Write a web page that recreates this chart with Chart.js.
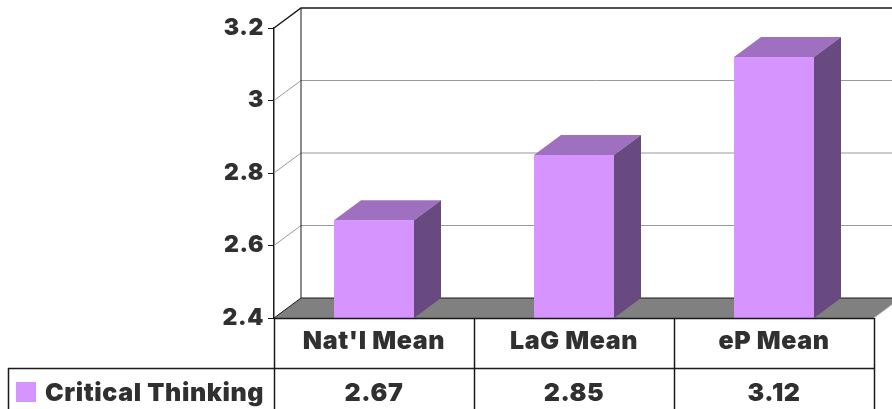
<!DOCTYPE html>
<html>
<head>
<meta charset="utf-8">
<style>
  html, body { margin: 0; padding: 0; background: #ffffff; }
  #wrap { width: 892px; height: 409px; }
</style>
<script src="https://cdn.jsdelivr.net/npm/chart.js@4/dist/chart.umd.min.js"></script>
</head>
<body>
<div id="wrap"><canvas id="c" width="892" height="409"></canvas></div>
<script>
// Critical Thinking means
const categories = ["Nat'l Mean", "LaG Mean", "eP Mean"];
const seriesName = "Critical Thinking";
const values = [2.67, 2.85, 3.12];
const valueLabels = ["2.67", "2.85", "3.12"];
const yTicks = [2.4, 2.6, 2.8, 3.0, 3.2];

const FONT = "Inter, 'DejaVu Sans', sans-serif";
const WEIGHT = '900';
const SPACING = '0.6px';
const TEXT = '#303030';
const FRONT = '#d694ff';
const TOP = '#a070c0';
const SIDE = '#684a80';
const LINE = '#1a1a1a';
const DX = 27, DY = -20;   // depth of the 3D box

const box3d = {
  id: 'box3d',
  beforeDraw(chart) {
    // wide, heavy lettering for every label
    chart.ctx.letterSpacing = SPACING;
  },
  beforeDatasetsDraw(chart) {
    const ctx = chart.ctx;
    const a = chart.chartArea;
    const y = chart.scales.y;
    const W = chart.width;
    ctx.save();
    // floor
    ctx.fillStyle = '#808080';
    ctx.beginPath();
    ctx.moveTo(a.left, a.bottom);
    ctx.lineTo(a.right, a.bottom);
    ctx.lineTo(a.right + DX, a.bottom + DY);
    ctx.lineTo(a.left + DX, a.bottom + DY);
    ctx.closePath();
    ctx.fill();
    ctx.strokeStyle = '#c8c8c8';
    ctx.lineWidth = 1;
    ctx.beginPath();
    ctx.moveTo(a.right, a.bottom);
    ctx.lineTo(a.right + DX, a.bottom + DY);
    ctx.stroke();
    // gridlines on side and back walls
    yTicks.forEach((t, i) => {
      const py = y.getPixelForValue(t);
      const last = i === yTicks.length - 1;
      const first = i === 0;
      ctx.strokeStyle = (last || first) ? LINE : '#999999';
      ctx.lineWidth = last ? 1.5 : 1;
      ctx.beginPath();
      ctx.moveTo(a.left, py);
      ctx.lineTo(a.left + DX, py + DY);
      ctx.lineTo(W, py + DY);
      ctx.stroke();
    });
    // back-left wall edge
    ctx.strokeStyle = LINE;
    ctx.lineWidth = 1;
    ctx.beginPath();
    ctx.moveTo(a.left + DX, a.top + DY);
    ctx.lineTo(a.left + DX, a.bottom + DY);
    ctx.stroke();
    ctx.restore();
  },
  afterDatasetsDraw(chart) {
    const ctx = chart.ctx;
    const a = chart.chartArea;
    const meta = chart.getDatasetMeta(0);
    ctx.save();
    meta.data.forEach(bar => {
      const l = bar.x - bar.width / 2, r = bar.x + bar.width / 2;
      const t = bar.y, b = a.bottom;
      ctx.fillStyle = TOP;
      ctx.beginPath();
      ctx.moveTo(l, t); ctx.lineTo(r, t);
      ctx.lineTo(r + DX, t + DY); ctx.lineTo(l + DX, t + DY);
      ctx.closePath(); ctx.fill();
      ctx.fillStyle = SIDE;
      ctx.beginPath();
      ctx.moveTo(r, t); ctx.lineTo(r + DX, t + DY);
      ctx.lineTo(r + DX, b + DY); ctx.lineTo(r, b);
      ctx.closePath(); ctx.fill();
    });
    ctx.restore();
  },
  afterDraw(chart) {
    // data table below the plot
    const ctx = chart.ctx;
    const a = chart.chartArea;
    const x = chart.scales.x;
    const H = chart.height;
    const rowTop = a.bottom + 50;
    const tableLeft = 8;
    const step = (a.right - a.left) / categories.length;
    ctx.save();
    ctx.strokeStyle = LINE;
    ctx.lineWidth = 1.5;
    ctx.beginPath();
    for (let i = 0; i <= categories.length; i++) {
      const px = Math.round(a.left + i * step) + 0.5;
      ctx.moveTo(px, a.bottom);
      ctx.lineTo(px, H);
    }
    ctx.moveTo(tableLeft + 0.5, rowTop);
    ctx.lineTo(tableLeft + 0.5, H);
    ctx.moveTo(tableLeft, rowTop + 0.5);
    ctx.lineTo(a.right, rowTop + 0.5);
    ctx.moveTo(a.left, a.bottom + 0.5);
    ctx.lineTo(a.right, a.bottom + 0.5);
    ctx.stroke();

    ctx.letterSpacing = SPACING;
    ctx.font = WEIGHT + ' 25px ' + FONT;
    ctx.fillStyle = TEXT;
    ctx.textAlign = 'center';
    ctx.textBaseline = 'middle';
    const vy = rowTop + 25;
    valueLabels.forEach((s, i) => {
      ctx.fillText(s, x.getPixelForValue(i), vy);
    });
    // legend key
    ctx.fillStyle = FRONT;
    ctx.fillRect(16, rowTop + 14, 20, 20);
    ctx.fillStyle = TEXT;
    ctx.textAlign = 'left';
    ctx.fillText(seriesName, 45, vy);
    ctx.restore();
  }
};

new Chart(document.getElementById('c'), {
  type: 'bar',
  data: {
    labels: categories,
    datasets: [{
      label: seriesName,
      data: values,
      backgroundColor: FRONT,
      borderWidth: 0,
      barPercentage: 0.4,
      categoryPercentage: 1.0
    }]
  },
  options: {
    responsive: false,
    devicePixelRatio: 1,
    animation: false,
    layout: { padding: { left: 0, right: 18, top: 28, bottom: 0 } },
    plugins: { legend: { display: false }, tooltip: { enabled: false } },
    scales: {
      y: {
        min: 2.4,
        max: 3.2,
        afterFit(scale) { scale.width = 274; },
        afterBuildTicks(scale) { scale.ticks = yTicks.map(v => ({ value: v })); },
        ticks: {
          padding: 4,
          color: TEXT,
          font: { family: FONT, size: 23, weight: WEIGHT },
          callback: v => String(+Number(v).toFixed(1))
        },
        grid: { drawOnChartArea: false, drawTicks: true, tickLength: 6, color: LINE },
        border: { display: true, color: LINE, width: 1.5 }
      },
      x: {
        afterFit(scale) { scale.height = 91; },
        ticks: {
          padding: 8,
          color: TEXT,
          font: { family: FONT, size: 25, weight: WEIGHT }
        },
        grid: { display: false, drawTicks: false },
        border: { display: false }
      }
    }
  },
  plugins: [box3d]
});
</script>
</body>
</html>
